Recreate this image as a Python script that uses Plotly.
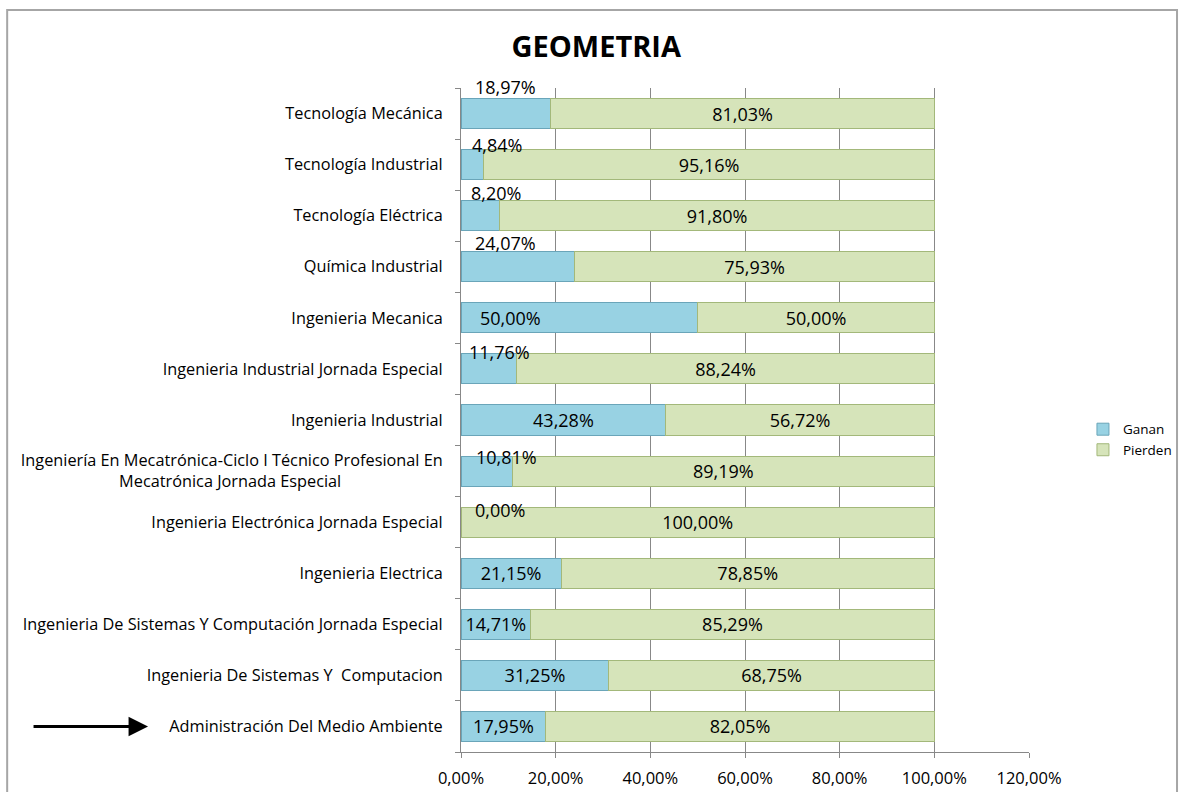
import plotly.graph_objects as go

# ---------------- data ----------------
categories = [
    "Tecnología Mecánica",
    "Tecnología Industrial",
    "Tecnología Eléctrica",
    "Química Industrial",
    "Ingenieria Mecanica",
    "Ingenieria Industrial Jornada Especial",
    "Ingenieria Industrial",
    "Ingeniería En Mecatrónica-Ciclo I Técnico Profesional En Mecatrónica Jornada Especial",
    "Ingenieria Electrónica Jornada Especial",
    "Ingenieria Electrica",
    "Ingenieria De Sistemas Y Computación Jornada Especial",
    "Ingenieria De Sistemas Y  Computacion",
    "Administración Del Medio Ambiente",
]
ganan = [18.97, 4.84, 8.20, 24.07, 50.00, 11.76, 43.28, 10.81, 0.00, 21.15, 14.71, 31.25, 17.95]
pierden = [81.03, 95.16, 91.80, 75.93, 50.00, 88.24, 56.72, 89.19, 100.00, 78.85, 85.29, 68.75, 82.05]
x_tick_values = [0, 20, 40, 60, 80, 100, 120]
chart_title = "GEOMETRIA"
series_names = ["Ganan", "Pierden"]


def fmt(v):
    return f"{v:.2f}".replace(".", ",") + "%"


x_tick_text = [fmt(v) for v in x_tick_values]

# tick label text (line break / spacing only)
NB = "\u00a0"
tick_text = []
for c in categories:
    if c.startswith("Ingeniería En Mecatrónica"):
        tick_text.append("Ingeniería En Mecatrónica-Ciclo I Técnico Profesional En<br>"
                         "Mecatrónica Jornada Especial" + NB * 24)
    else:
        tick_text.append(c.replace("  ", NB + NB))

# ---------------- label placement (styling, not data) ----------------
# Ganan labels drawn above / shifted: category index -> (x centre in axis units, y shift px)
ganan_label_pos = {
    0: (9.5, 27), 1: (7.6, 20), 2: (7.4, 23), 3: (9.3, 24),
    4: (10.4, 0), 5: (8.2, 17), 7: (9.7, 14), 8: (8.2, 12),
}

ganan_text = ["" if i in ganan_label_pos else fmt(v) for i, v in enumerate(ganan)]
pierden_text = [fmt(v) for v in pierden]

FONT = "Open Sans"
LABEL_SIZE = 18
BLUE = "#98D2E3"
BLUE_LINE = "#6AA5B9"
GREEN = "#D6E4BA"
GREEN_LINE = "#A3B87A"

fig = go.Figure()
fig.add_trace(go.Bar(
    y=categories, x=ganan, orientation="h", name=series_names[0],
    marker=dict(color=BLUE, line=dict(color=BLUE_LINE, width=1)),
    text=ganan_text, textposition="inside", insidetextanchor="middle",
    textangle=0, constraintext="none",
    insidetextfont=dict(family=FONT, size=LABEL_SIZE, color="#000000"),
    hoverinfo="x+y",
))
fig.add_trace(go.Bar(
    y=categories, x=pierden, orientation="h", name=series_names[1],
    marker=dict(color=GREEN, line=dict(color=GREEN_LINE, width=1)),
    text=pierden_text, textposition="inside", insidetextanchor="middle",
    textangle=0, constraintext="none",
    insidetextfont=dict(family=FONT, size=LABEL_SIZE, color="#000000"),
    hoverinfo="x+y",
))

annotations = []
for i, (xc, dy) in ganan_label_pos.items():
    annotations.append(dict(
        x=xc, y=categories[i], xref="x", yref="y", text=fmt(ganan[i]),
        showarrow=False, xanchor="center", yanchor="middle", yshift=dy,
        font=dict(family=FONT, size=LABEL_SIZE, color="#000000"),
    ))

# arrow pointing at the last category
annotations.append(dict(
    x=-0.551, y=categories[-1], xref="paper", yref="y", text="",
    showarrow=True, ax=-116, ay=0, axref="pixel", ayref="pixel",
    arrowhead=2, arrowsize=1.3, arrowwidth=3, arrowcolor="#000000",
))

fig.update_layout(
    width=1183, height=792, autosize=False,
    margin=dict(l=461, r=154, t=88, b=40, autoexpand=False),
    paper_bgcolor="#ffffff", plot_bgcolor="#ffffff",
    barmode="stack", bargap=0.41,
    separators=",.",
    font=dict(family=FONT, size=15, color="#000000"),
    uniformtext=dict(mode="show", minsize=LABEL_SIZE),
    title=dict(text="<b>" + chart_title + "</b>", x=0.504, xref="container",
               xanchor="center", y=0.9407, yanchor="middle", yref="container",
               font=dict(family=FONT, size=29, color="#000000")),
    legend=dict(x=1.095, y=0.47, xanchor="left", yanchor="middle",
                traceorder="normal", font=dict(family=FONT, size=13.5, color="#000000"),
                bgcolor="rgba(0,0,0,0)", tracegroupgap=4),
    showlegend=True,
    annotations=annotations,
    shapes=[dict(type="rect", xref="paper", yref="paper",
                 x0=-0.799, x1=1.2606, y0=-0.08, y1=1.1175,
                 line=dict(color="#A6A6A6", width=2), fillcolor="rgba(0,0,0,0)",
                 layer="below")],
)

fig.update_xaxes(
    range=[0, 120], tickvals=x_tick_values, ticktext=x_tick_text,
    showgrid=True, gridcolor="#888888", gridwidth=1,
    showline=True, linecolor="#888888", linewidth=1,
    ticks="outside", ticklen=5, tickcolor="#888888", ticklabelstandoff=6,
    zeroline=False, tickfont=dict(family=FONT, size=16.5, color="#000000"),
    fixedrange=True,
)
fig.update_yaxes(
    type="category", categoryorder="array", categoryarray=categories,
    autorange="reversed", tickvals=categories, ticktext=tick_text,
    showline=True, linecolor="#888888", linewidth=1,
    ticks="outside", ticklen=5, tickcolor="#888888", tickson="boundaries",
    ticklabelstandoff=14, showgrid=False, zeroline=False,
    tickfont=dict(family=FONT, size=16.3, color="#000000"),
    fixedrange=True,
)

fig.write_html(
    "out.html",
    config={"displayModeBar": False},
    post_script="document.body.style.margin='0';document.body.style.overflow='hidden';",
)
